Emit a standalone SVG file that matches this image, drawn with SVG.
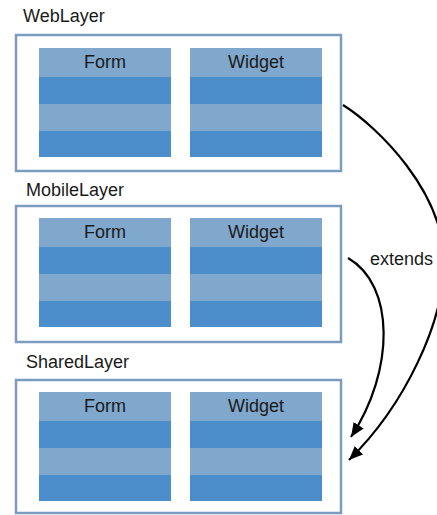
<svg xmlns="http://www.w3.org/2000/svg" width="437" height="515" viewBox="0 0 437 515">
<style>
.frame{fill:#ffffff;stroke:#7b9bbf;stroke-width:2.5}
.lt{fill:#80a7cc}
.dk{fill:#4c8ecb}
.t{font-family:"Liberation Sans",Arial,sans-serif;font-size:18px;fill:#1a1a1a}
.hd{text-anchor:middle}
.edge{fill:none;stroke:#000000;stroke-width:2.2}
</style>
<defs>
<marker id="ah" markerUnits="userSpaceOnUse" markerWidth="16" markerHeight="14" refX="14" refY="6" orient="auto">
<path d="M0,0 L14,6 L0,12 z" fill="#000000"/>
</marker>
<g id="tbl">
<rect class="lt" x="0" y="0" width="132" height="29"/>
<rect class="dk" x="0" y="29" width="132" height="27"/>
<rect class="lt" x="0" y="56" width="132" height="27"/>
<rect class="dk" x="0" y="83" width="132" height="26"/>
</g>
</defs>

<g id="WebLayer">
<text class="t" x="23" y="22">WebLayer</text>
<rect class="frame" x="16" y="35" width="325" height="136"/>
<g id="WebForm"><use href="#tbl" x="39" y="48"/><text class="t hd" x="105" y="68">Form</text></g>
<g id="WebWidget"><use href="#tbl" x="190" y="48"/><text class="t hd" x="256" y="68">Widget</text></g>
</g>

<g id="MobileLayer">
<text class="t" x="26" y="196">MobileLayer</text>
<rect class="frame" x="16" y="206" width="325" height="136"/>
<g id="MobileForm"><use href="#tbl" x="39" y="218"/><text class="t hd" x="105" y="238">Form</text></g>
<g id="MobileWidget"><use href="#tbl" x="190" y="218"/><text class="t hd" x="256" y="238">Widget</text></g>
</g>

<g id="SharedLayer">
<text class="t" x="26" y="368">SharedLayer</text>
<rect class="frame" x="16" y="380" width="325" height="133"/>
<g id="SharedForm"><use href="#tbl" x="39" y="392"/><text class="t hd" x="105" y="412">Form</text></g>
<g id="SharedWidget"><use href="#tbl" x="190" y="392"/><text class="t hd" x="256" y="412">Widget</text></g>
</g>

<g id="connectors">
<path class="edge" d="M343,105 C378,127 444,192 444,262 C444,322 405,405 349,460" marker-end="url(#ah)"/>
<path class="edge" d="M348,258 C395,285 395,370 351,437" marker-end="url(#ah)"/>
<text class="t" x="370" y="265">extends</text>
</g>
</svg>
